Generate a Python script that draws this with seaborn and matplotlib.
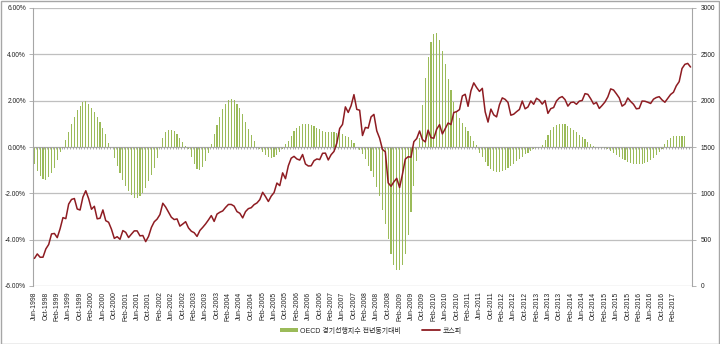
import numpy as np
import pandas as pd
import matplotlib
matplotlib.use("Agg")
import matplotlib.pyplot as plt
import seaborn as sns
from matplotlib.patches import Patch, Rectangle
from matplotlib.lines import Line2D
from matplotlib.ticker import FuncFormatter, FixedLocator

sns.set_style("white")
plt.rcParams['font.family'] = ['Liberation Sans', 'Noto Sans CJK KR', 'DejaVu Sans']

# ---------------- data ----------------
months = list(pd.date_range("1998-06-01", periods=231, freq="MS").strftime("%b-%Y"))

oecd_yoy = [
    -0.75, -1.05, -1.27, -1.38, -1.41, -1.31, -1.13, -0.89, -0.56, -0.21,
    -0.03, 0.32, 0.66, 1.01, 1.30, 1.58, 1.76, 1.93, 1.97, 1.87,
    1.69, 1.52, 1.31, 1.08, 0.80, 0.56, 0.18, 0.02, -0.49, -0.80,
    -1.13, -1.41, -1.69, -1.90, -2.08, -2.18, -2.20, -2.13, -1.97, -1.76,
    -1.48, -1.20, -0.89, -0.49, -0.03, 0.39, 0.63, 0.75, 0.75, 0.68,
    0.56, 0.39, 0.21, 0.05, -0.10, -0.45, -0.75, -0.95, -1.00, -0.85,
    -0.60, -0.25, 0.11, 0.56, 0.96, 1.31, 1.62, 1.87, 2.01, 2.08,
    2.01, 1.87, 1.69, 1.41, 1.08, 0.77, 0.52, 0.24, 0.02, -0.10,
    -0.20, -0.35, -0.45, -0.49, -0.45, -0.35, -0.20, -0.08, 0.11, 0.28,
    0.49, 0.68, 0.82, 0.92, 0.99, 1.01, 0.99, 0.94, 0.89, 0.82,
    0.77, 0.70, 0.66, 0.63, 0.63, 0.63, 0.61, 0.63, 0.56, 0.49,
    0.42, 0.32, 0.18, 0.02, -0.12, -0.31, -0.53, -0.81, -1.03, -1.31,
    -1.74, -2.10, -2.74, -3.31, -3.96, -4.60, -5.10, -5.31, -5.31, -5.10,
    -4.60, -3.81, -2.81, -1.67, -0.60, 0.40, 1.83, 2.97, 3.90, 4.55,
    4.88, 4.91, 4.60, 4.15, 3.60, 2.95, 2.45, 1.95, 1.55, 1.27,
    1.05, 0.85, 0.68, 0.47, 0.27, 0.08, -0.25, -0.45, -0.65, -0.82,
    -0.95, -1.03, -1.07, -1.08, -1.05, -1.00, -0.92, -0.82, -0.72, -0.62,
    -0.52, -0.42, -0.32, -0.24, -0.16, -0.09, -0.03, 0.01, 0.08, 0.30,
    0.50, 0.72, 0.85, 0.95, 1.00, 1.01, 0.98, 0.92, 0.81, 0.74,
    0.65, 0.53, 0.43, 0.33, 0.22, 0.12, 0.05, 0.01, -0.02, -0.03,
    -0.05, -0.10, -0.18, -0.26, -0.34, -0.42, -0.50, -0.57, -0.63, -0.68,
    -0.72, -0.74, -0.75, -0.74, -0.71, -0.65, -0.57, -0.47, -0.35, -0.22,
    -0.08, 0.12, 0.30, 0.40, 0.46, 0.49, 0.49, 0.49, 0.49, np.nan,
    np.nan,
]

kospi = [
    # 1998 Jun-Dec
    298, 346, 310, 311, 400, 448, 562,
    # 1999
    567, 522, 618, 738, 727, 884, 934, 944, 831, 820, 960, 1028,
    # 2000
    943, 828, 860, 725, 731, 821, 705, 688, 613, 514, 532, 504,
    # 2001
    598, 579, 523, 560, 595, 595, 541, 545, 479, 535, 632, 693,
    # 2002
    722, 771, 893, 852, 796, 742, 717, 724, 646, 669, 694, 627,
    # 2003
    591, 575, 535, 599, 633, 670, 713, 760, 697, 776, 796, 810,
    # 2004
    848, 880, 880, 862, 803, 785, 735, 803, 835, 845, 878, 896,
    # 2005
    932, 1011, 965, 912, 970, 1008, 1111, 1083, 1221, 1158, 1297, 1379,
    # 2006
    1399, 1371, 1359, 1419, 1317, 1295, 1297, 1352, 1371, 1364, 1432, 1434,
    # 2007
    1360, 1417, 1452, 1542, 1700, 1744, 1933, 1873, 1946, 2065, 1906, 1897,
    # 2008
    1624, 1711, 1704, 1825, 1852, 1674, 1595, 1474, 1448, 1113, 1076, 1124,
    # 2009
    1162, 1063, 1206, 1369, 1395, 1390, 1557, 1591, 1673, 1580, 1555, 1682,
    # 2010
    1602, 1594, 1692, 1741, 1641, 1698, 1759, 1742, 1872, 1882, 1904, 2051,
    # 2011
    2069, 1939, 2106, 2192, 2142, 2100, 2133, 1880, 1769, 1909, 1847, 1825,
    # 2012
    1955, 2030, 2014, 1981, 1843, 1854, 1881, 1905, 1996, 1912, 1932, 1997,
    # 2013
    1961, 2026, 2005, 1963, 2001, 1863, 1914, 1926, 1997, 2030, 2044, 2011,
    # 2014
    1941, 1980, 1985, 1961, 1995, 2002, 2076, 2068, 2020, 1964, 1981, 1916,
    # 2015
    1949, 1986, 2041, 2127, 2115, 2074, 2030, 1941, 1963, 2029, 1991, 1961,
    # 2016
    1912, 1917, 1996, 1994, 1983, 1970, 2016, 2034, 2043, 2008, 1983, 2026,
    # 2017 Jan-Aug
    2067, 2091, 2160, 2205, 2347, 2392, 2402, 2363,
]

bar_label = "OECD 경기선행지수 전년동기대비"
line_label = "코스피"
bar_color = "#9BBB59"
line_color = "#8E1C22"
grid_color = "#BFBFBF"

n = len(months)
df = pd.DataFrame({"idx": np.arange(n), "month": months,
                   "oecd": oecd_yoy, "kospi": kospi})

# ---------------- figure ----------------
W, H = 720, 344
fig = plt.figure(figsize=(W / 100, H / 100), dpi=100)
L, R, T, B = 33, 692, 8, 286
ax = fig.add_axes([L / W, 1 - B / H, (R - L) / W, (B - T) / H])

sns.barplot(data=df, x="idx", y="oecd", ax=ax, color=bar_color,
            width=0.4, linewidth=0, saturation=1, order=list(range(n)))
ax.set_xlim(-0.5, n - 0.5)
ax.set_ylim(-6, 6)
ax.set_yticks(np.arange(-6, 6.01, 2))
ax.yaxis.set_major_formatter(FuncFormatter(lambda v, p: f"{v:.2f}%"))
ax.grid(axis="y", color=grid_color, lw=0.9)
ax.set_axisbelow(True)
ax.set_xlabel("")
ax.set_ylabel("")

# horizontal category axis at zero with small tick marks
ax.axhline(0, color="#A6A6A6", lw=0.6, zorder=1)
ax.vlines(np.arange(n + 1) - 0.5, -0.09, 0, color="#8C8C8C", lw=0.5, zorder=1)

tick_pos = list(range(0, n - 6, 4))
ax.xaxis.set_major_locator(FixedLocator(tick_pos))
ax.set_xticklabels([months[i] for i in tick_pos], rotation=90, fontsize=4.9,
                   color="#222222")
ax.tick_params(axis="x", length=0, pad=4)
ax.tick_params(axis="y", length=3, width=0.6, color="#A6A6A6", labelsize=4.8,
               labelcolor="#222222", pad=2, direction="out", left=True)

for s in ["top", "right", "bottom"]:
    ax.spines[s].set_visible(False)
ax.spines["left"].set_color("#A6A6A6")
ax.spines["left"].set_linewidth(0.8)

ax2 = ax.twinx()
sns.lineplot(data=df, x="idx", y="kospi", ax=ax2, color=line_color,
             lw=1.1, legend=False)
ax2.set_ylim(0, 3000)
ax2.set_xlim(-0.5, n - 0.5)
ax2.set_yticks(np.arange(0, 3001, 500))
ax2.set_ylabel("")
ax2.set_xlabel("")
ax2.tick_params(axis="y", length=3, width=0.6, color="#A6A6A6", labelsize=4.8,
                labelcolor="#222222", pad=3, direction="out", right=True)
for s in ["top", "left", "bottom"]:
    ax2.spines[s].set_visible(False)
ax2.spines["right"].set_color("#A6A6A6")
ax2.spines["right"].set_linewidth(0.8)
ax2.grid(False)

handles = [Patch(facecolor=bar_color, edgecolor="none", label=bar_label),
           Line2D([0], [0], color=line_color, lw=1.3, label=line_label)]
fig.legend(handles=handles, loc="center", bbox_to_anchor=(0.515, 1 - 331 / H),
           ncol=2, frameon=False, fontsize=5, handlelength=2.6,
           handleheight=0.6, columnspacing=3.0, handletextpad=0.3)

fig.patches.append(Rectangle((0.5 / W, 0.5 / H), 1 - 1.5 / W, 1 - 1.5 / H,
                             transform=fig.transFigure, fill=False,
                             edgecolor="#A6A6A6", lw=1))

fig.savefig("out.png", dpi=100)
